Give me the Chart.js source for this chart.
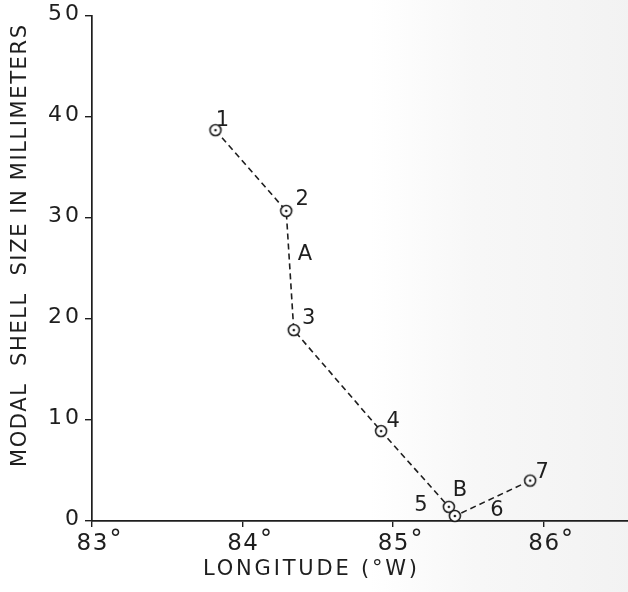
<!DOCTYPE html>
<html>
<head>
<meta charset="utf-8">
<script src="https://cdn.jsdelivr.net/npm/chart.js@4/dist/chart.umd.min.js"></script>
<style>
  html, body { margin: 0; padding: 0; background: #fff; }
  #c { display: block; }
</style>
</head>
<body>
<canvas id="c" width="628" height="592"></canvas>
<script>
// Station numbers, longitude (degrees W) and modal shell size (mm)
const stations   = ['1', '2', '3', '4', '5', '6', '7'];
const longitude  = [83.82, 84.29, 84.34, 84.92, 85.37, 85.41, 85.91];
const shellSize  = [38.7, 30.7, 18.9, 8.9, 1.4, 0.5, 4.0];

// Axis ticks
const xTickValues = [83, 84, 85, 86];
const yTickValues = [0, 10, 20, 30, 40, 50];

// Reach letters and the stations they sit beside
const reachLetters = ['A', 'B'];
const reachAnchors = [[1, 2], [4, 4]];

// Label placement (pixel offsets from the anchor)
const stationLabelOffsets = [[7, -10], [16, -11], [15, -12], [12, -10], [-28, -1], [42, -5], [12, -8]];
const reachLabelOffsets = [[15, -16], [11, -16]];

const INK = '#1e1e1e';
const FONT = '"DejaVu Sans", sans-serif';

// open circle with a centre dot
function ringDot() {
  const c = document.createElement('canvas');
  c.width = c.height = 16;
  const g = c.getContext('2d');
  g.fillStyle = '#fff';
  g.beginPath(); g.arc(8, 8, 5.5, 0, Math.PI * 2); g.fill();
  g.lineWidth = 1.6; g.strokeStyle = INK; g.stroke();
  g.fillStyle = INK;
  g.beginPath(); g.arc(8, 8, 1.3, 0, Math.PI * 2); g.fill();
  return c;
}

// draw text with letters spread to a target width
function spreadText(ctx, text, cx, cy, targetWidth) {
  ctx.letterSpacing = '0px';
  const w = ctx.measureText(text).width;
  const sp = Math.max(0, (targetWidth - w) / (text.length - 1));
  ctx.letterSpacing = sp + 'px';
  ctx.fillText(text, cx + sp / 2, cy);
  ctx.letterSpacing = '0px';
}

// width of a string drawn with a given letter spacing (without trailing gap)
function spacedWidth(ctx, text, sp) {
  ctx.letterSpacing = '0px';
  return ctx.measureText(text).width + sp * (text.length - 1);
}

const paper = {
  id: 'paper',
  beforeDraw(chart) {
    const { ctx, width, height } = chart;
    ctx.save();
    ctx.fillStyle = '#fff';
    ctx.fillRect(0, 0, width, height);
    const g = ctx.createLinearGradient(370, 0, width, 0);
    g.addColorStop(0, 'rgba(242,242,242,0)');
    g.addColorStop(0.4, 'rgba(242,242,242,0.6)');
    g.addColorStop(1, 'rgba(240,240,240,0.85)');
    ctx.fillStyle = g;
    ctx.fillRect(370, 0, width - 370, height);
    ctx.restore();
  }
};

const annotations = {
  id: 'annotations',
  afterDraw(chart) {
    const { ctx } = chart;
    const xs = chart.scales.x, ys = chart.scales.y;
    const meta = chart.getDatasetMeta(0);
    ctx.save();
    ctx.fillStyle = INK;
    ctx.textBaseline = 'middle';
    ctx.textAlign = 'left';

    // y tick labels, right-aligned against the tick marks
    ctx.font = '22px ' + FONT;
    yTickValues.forEach(v => {
      const py = ys.getPixelForValue(v);
      const t = String(v);
      const w = spacedWidth(ctx, t, 3);
      ctx.letterSpacing = '3px';
      ctx.fillText(t, 79 - w, py - 2);
      ctx.letterSpacing = '0px';
    });

    // x tick labels: number centred on the tick, degree sign after it
    xTickValues.forEach(v => {
      const px = xs.getPixelForValue(v);
      const num = String(v);
      ctx.font = '23px ' + FONT;
      const w = spacedWidth(ctx, num, 1.5);
      ctx.letterSpacing = '1.5px';
      ctx.fillText(num, px - w / 2, 544);
      ctx.letterSpacing = '0px';
      ctx.font = '24px ' + FONT;
      ctx.fillText('°', px + w / 2 + 2, 541);
    });
    ctx.textAlign = 'center';

    // station numbers
    ctx.font = '21px ' + FONT;
    meta.data.forEach((pt, i) => {
      const o = stationLabelOffsets[i];
      ctx.fillText(stations[i], pt.x + o[0], pt.y + o[1]);
    });

    // reach letters
    reachLetters.forEach((t, i) => {
      const [a, b] = reachAnchors[i];
      const x = (meta.data[a].x + meta.data[b].x) / 2;
      const y = (meta.data[a].y + meta.data[b].y) / 2;
      const o = reachLabelOffsets[i];
      ctx.fillText(t, x + o[0], y + o[1]);
    });

    // axis titles
    ctx.font = '21px ' + FONT;
    spreadText(ctx, 'LONGITUDE (°W)', 310, 570, 214);
    ctx.translate(21, 246);
    ctx.rotate(-Math.PI / 2);
    spreadText(ctx, 'MODAL  SHELL  SIZE IN MILLIMETERS', 0, 0, 442);
    ctx.restore();
  }
};

new Chart(document.getElementById('c'), {
  type: 'line',
  data: {
    datasets: [{
      data: longitude.map((x, i) => ({ x, y: shellSize[i] })),
      borderColor: INK,
      borderWidth: 1.6,
      borderDash: [6, 4],
      pointStyle: ringDot(),
      pointRadius: 6,
      pointHoverRadius: 6,
      tension: 0,
      fill: false,
      clip: false
    }]
  },
  options: {
    responsive: false,
    animation: false,
    events: [],
    layout: { autoPadding: false, padding: { top: 16, right: 0, left: 0, bottom: 0 } },
    plugins: { legend: { display: false }, tooltip: { enabled: false } },
    scales: {
      x: {
        type: 'linear',
        min: 83,
        max: 86.56,
        afterBuildTicks: s => { s.ticks = xTickValues.map(v => ({ value: v })); },
        afterFit: s => { s.height = 71; },
        ticks: { display: false },
        grid: { drawOnChartArea: false, drawTicks: true, tickLength: 6, color: INK, lineWidth: 1.4 },
        border: { display: true, color: INK, width: 1.7 }
      },
      y: {
        type: 'linear',
        min: 0,
        max: 50,
        afterBuildTicks: s => { s.ticks = yTickValues.map(v => ({ value: v })); },
        afterFit: s => { s.width = 92; },
        ticks: { display: false },
        grid: { drawOnChartArea: false, drawTicks: true, tickLength: 7, color: INK, lineWidth: 1.4 },
        border: { display: true, color: INK, width: 1.7 }
      }
    }
  },
  plugins: [paper, annotations]
});
</script>
</body>
</html>
